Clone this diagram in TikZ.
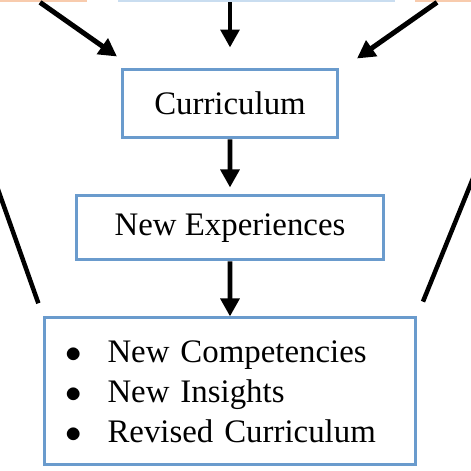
\documentclass[tikz,border=0pt]{standalone}
\usepackage{fix-cm}
\usepackage{fontspec}
\setmainfont{Liberation Serif}
\usetikzlibrary{arrows.meta}
\definecolor{peach}{HTML}{F8CBAD}
\definecolor{paleblue}{HTML}{C9DDF0}
\definecolor{boxblue}{RGB}{106,155,205}
\begin{document}
\begin{tikzpicture}[x=0.02cm, y=-0.02cm,
        box/.style={draw=boxblue, line width=0.06cm, fill=white, inner sep=0pt},
        topbox/.style={inner sep=0pt, minimum height=0.84cm},
        arr/.style={line width=0.1cm, -{Triangle[width=0.37cm, length=0.36cm]}},
        link/.style={line width=0.09cm},
        every node/.style={font=\fontsize{18.7}{22.8}\selectfont}]
    \useasboundingbox (0,0) rectangle (471,471);
    \clip (0,0) rectangle (471,471);
    \node[topbox, fill=peach, minimum width=2.94cm] (lbox) at (13.5,-19) {};
    \node[topbox, fill=paleblue, minimum width=5.54cm] (cbox) at (256.5,-19) {};
    \node[topbox, fill=peach, minimum width=2.5cm] (rbox) at (477.5,-19) {};
    \node[box, minimum width=4.3cm, minimum height=1.38cm] (curr) at (230,103.5) {Curriculum}
        [grow=down, edge from parent/.style={draw, arr}]
        child[level distance=2.49cm] {
            node[box, minimum width=6.14cm, minimum height=1.28cm] (exp) {New Experiences}
            child[level distance=3.27cm] {
                node[box, text width=6.58cm, inner xsep=0.42cm, minimum height=2.94cm, align=left] (out) {%
                    \makebox[0.84cm][l]{$\bullet$}New Competencies\\
                    \makebox[0.84cm][l]{$\bullet$}New Insights\\
                    \makebox[0.84cm][l]{$\bullet$}Revised Curriculum}
            }
            edge from parent[shorten >=0.14cm]
        };
    \coordinate (lfar) at (-10,167);
    \coordinate (rfar) at (481,158.6);
    \draw[arr] ([shift={(26.5,0)}]lbox.south) -- ([shift={(-4,-11)}]curr.north west);
    \draw[arr] (cbox.south -| curr.north) -- ([shift={(0,-20)}]curr.north);
    \draw[arr] ([shift={(-40.5,0)}]rbox.south) -- ([shift={(18,-9)}]curr.north east);
    \draw[link, shorten >=0.28cm] (lfar) -- (out.north west);
    \draw[link, shorten >=0.32cm] (rfar) -- (out.north east);
\end{tikzpicture}
\end{document}
